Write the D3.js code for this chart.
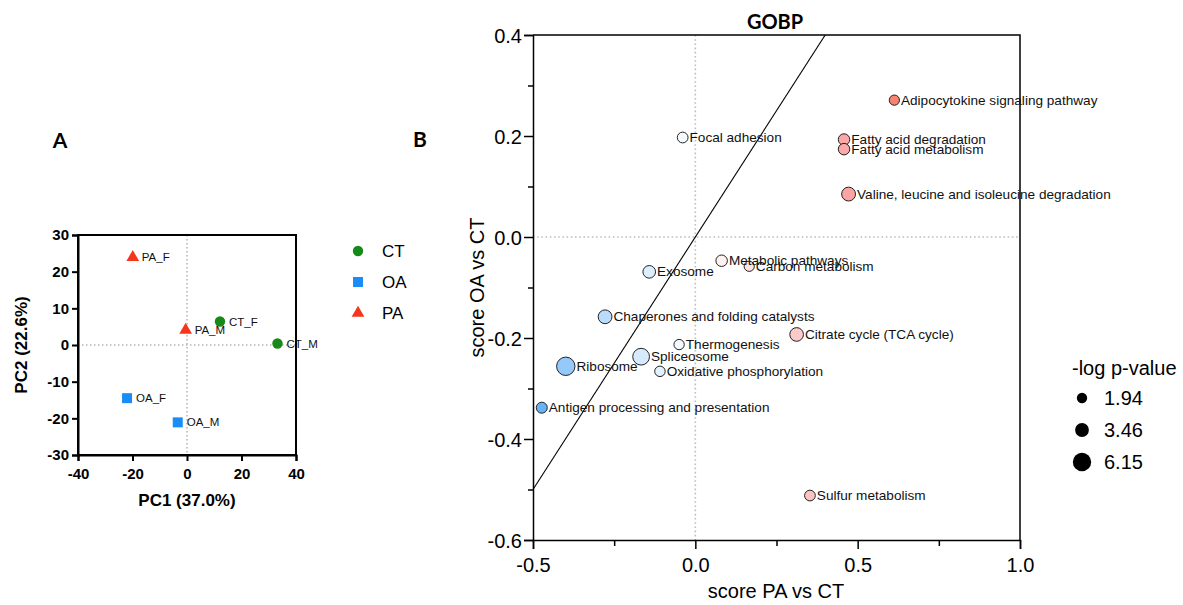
<!DOCTYPE html>
<html>
<head>
<meta charset="utf-8">
<script src="https://cdn.jsdelivr.net/npm/d3@7"></script>
<style>
  html, body { margin: 0; padding: 0; background: #fff; }
  svg { display: block; }
</style>
</head>
<body>
<svg id="fig" width="1183" height="605"></svg>
<script>
// ---- Panel A: PCA scores ----
const pcaSamples = ["PA_F", "PA_M", "CT_F", "CT_M", "OA_F", "OA_M"];
const pcaGroups  = ["PA", "PA", "CT", "CT", "OA", "OA"];
const pcaPC1     = [-19.9, -0.5, 12.1, 33.2, -22.0, -3.4];
const pcaPC2     = [23.9, 4.1, 6.4, 0.4, -14.5, -21.1];
const groupNames = ["CT", "OA", "PA"];
const pcaXTicks  = [-40, -20, 0, 20, 40];
const pcaYTicks  = [-30, -20, -10, 0, 10, 20, 30];

// ---- Panel B: pathway scores (GOBP) ----
const pathways = [
  "Adipocytokine signaling pathway", "Fatty acid degradation", "Fatty acid metabolism",
  "Valine, leucine and isoleucine degradation", "Focal adhesion", "Exosome",
  "Metabolic pathways", "Carbon metabolism", "Chaperones and folding catalysts",
  "Citrate cycle (TCA cycle)", "Thermogenesis", "Spliceosome", "Ribosome",
  "Oxidative phosphorylation", "Antigen processing and presentation", "Sulfur metabolism"
];
const scorePA = [0.613, 0.458, 0.458, 0.472, -0.039, -0.142, 0.081, 0.166, -0.278,
                 0.312, -0.050, -0.167, -0.399, -0.109, -0.473, 0.353];
const scoreOA = [0.271, 0.193, 0.174, 0.085, 0.197, -0.069, -0.047, -0.058, -0.158,
                 -0.193, -0.213, -0.237, -0.256, -0.266, -0.338, -0.512];
const negLogP = [1.9, 2.4, 2.4, 3.5, 2.1, 2.9, 2.4, 1.9, 3.46,
                 3.4, 1.94, 5.1, 6.15, 2.0, 2.2, 2.1];
const sizeLegend = [1.94, 3.46, 6.15];
const bXTicks = [-0.5, 0.0, 0.5, 1.0];
const bXMinor = [-0.25, 0.25, 0.75];
const bYTicks = [0.4, 0.2, 0.0, -0.2, -0.4, -0.6];
const bYMinor = [0.3, 0.1, -0.1, -0.3, -0.5];
const identityLine = [-0.5, 0.4];   // y = x reference, drawn between these values

const svg = d3.select("#fig");
const ARIAL = "'Liberation Sans', Arial, Helvetica, sans-serif";
const CAL = "Lato, 'Open Sans', sans-serif";
// plain hyphen for negative numbers
const fmt = spec => { const f = d3.format(spec); return d => f(d).replace("\u2212", "-"); };

// ================= Panel A =================
const ax = d3.scaleLinear().domain([-40, 40]).range([78, 296]);
const ay = d3.scaleLinear().domain([-30, 30]).range([455, 235]);
const groupColor = d3.scaleOrdinal().domain(groupNames).range(["#168a16", "#1a8cf5", "#f5361c"]);
const groupShape = d3.scaleOrdinal().domain(groupNames)
  .range([d3.symbolCircle, d3.symbolSquare, d3.symbolTriangle]);
const groupSize = d3.scaleOrdinal().domain(groupNames).range([85, 100, 70]);

const gA = svg.append("g");
svg.append("text").attr("x", 60).attr("y", 148).attr("text-anchor", "middle")
  .attr("font-family", CAL).attr("font-weight", 700).attr("font-size", 21).text("A");

// zero reference lines
gA.append("line").attr("x1", ax(0)).attr("x2", ax(0)).attr("y1", ay(30)).attr("y2", ay(-30))
  .attr("stroke", "#b5b5b5").attr("stroke-width", 1.5).attr("stroke-dasharray", "1.5,2.5");
gA.append("line").attr("x1", ax(-40)).attr("x2", ax(40)).attr("y1", ay(0)).attr("y2", ay(0))
  .attr("stroke", "#b5b5b5").attr("stroke-width", 1.5).attr("stroke-dasharray", "1.5,2.5");

// frame
gA.append("rect").attr("x", ax(-40)).attr("y", ay(30)).attr("width", ax(40) - ax(-40))
  .attr("height", ay(-30) - ay(30)).attr("fill", "none").attr("stroke", "#000").attr("stroke-width", 2);

const axA = gA.append("g").attr("transform", `translate(0,${ay(-30)})`)
  .call(d3.axisBottom(ax).tickValues(pcaXTicks).tickSize(6).tickPadding(4).tickFormat(fmt("d")));
const ayA = gA.append("g").attr("transform", `translate(${ax(-40)},0)`)
  .call(d3.axisLeft(ay).tickValues(pcaYTicks).tickSize(6).tickPadding(3).tickFormat(fmt("d")));
[axA, ayA].forEach(g => {
  g.select(".domain").attr("stroke-width", 2);
  g.selectAll(".tick line").attr("stroke-width", 2);
  g.selectAll(".tick text").attr("font-family", ARIAL).attr("font-weight", 700)
    .attr("font-size", 15).attr("fill", "#000");
});
axA.selectAll(".tick text").attr("dy", "0.9em");

gA.append("text").attr("x", ax(0)).attr("y", 506).attr("text-anchor", "middle")
  .attr("font-family", ARIAL).attr("font-weight", 700).attr("font-size", 17).text("PC1 (37.0%)");
gA.append("text").attr("transform", `translate(27,${ay(0)}) rotate(-90)`).attr("text-anchor", "middle")
  .attr("font-family", ARIAL).attr("font-weight", 700).attr("font-size", 17).text("PC2 (22.6%)");

const ptsA = pcaSamples.map((s, i) => ({ s, g: pcaGroups[i], x: pcaPC1[i], y: pcaPC2[i] }));
gA.selectAll("path.pt").data(ptsA).join("path").attr("class", "pt")
  .attr("transform", d => `translate(${ax(d.x)},${ay(d.y)})`)
  .attr("d", d => d3.symbol().type(groupShape(d.g)).size(groupSize(d.g))())
  .attr("fill", d => groupColor(d.g));
gA.selectAll("text.lab").data(ptsA).join("text").attr("class", "lab")
  .attr("x", d => ax(d.x) + 9).attr("y", d => ay(d.y)).attr("dy", "0.35em")
  .attr("font-family", ARIAL).attr("font-size", 11.5).attr("fill", "#111").text(d => d.s);

// legend
const legA = gA.selectAll("g.leg").data(groupNames).join("g").attr("class", "leg")
  .attr("transform", (d, i) => `translate(358,${251 + i * 31})`);
legA.append("path").attr("d", d => d3.symbol().type(groupShape(d)).size(groupSize(d))())
  .attr("fill", d => groupColor(d));
legA.append("text").attr("x", 24).attr("dy", "0.36em").attr("font-family", ARIAL)
  .attr("font-size", 17).text(d => d);

// ================= Panel B =================
const bx = d3.scaleLinear().domain([-0.5, 1.0]).range([533, 1020]);
const by = d3.scaleLinear().domain([-0.6, 0.4]).range([540, 35]);
const rScale = d3.scaleSqrt().domain([0, 6.15]).range([0, 9.2]);
const fillScale = d3.scaleLinear()
  .domain([-0.48, -0.38, 0, 0.35, 0.47, 0.62])
  .range(["#62b2f5", "#a0cffb", "#ffffff", "#fcc4c4", "#faa5a5", "#f7826f"])
  .clamp(true);

const gB = svg.append("g");
svg.append("text").attr("x", 420).attr("y", 147).attr("text-anchor", "middle")
  .attr("font-family", CAL).attr("font-weight", 700).attr("font-size", 21).text("B");
svg.append("text").attr("x", 775).attr("y", 29).attr("text-anchor", "middle")
  .attr("font-family", CAL).attr("font-weight", 700).attr("font-size", 20).text("GOBP");

gB.append("defs").append("clipPath").attr("id", "plotB").append("rect")
  .attr("x", bx(-0.5)).attr("y", by(0.4)).attr("width", bx(1) - bx(-0.5)).attr("height", by(-0.6) - by(0.4));

gB.append("line").attr("x1", bx(0)).attr("x2", bx(0)).attr("y1", by(0.4)).attr("y2", by(-0.6))
  .attr("stroke", "#bdbdbd").attr("stroke-width", 1.6).attr("stroke-dasharray", "1.6,2.6");
gB.append("line").attr("x1", bx(-0.5)).attr("x2", bx(1)).attr("y1", by(0)).attr("y2", by(0))
  .attr("stroke", "#bdbdbd").attr("stroke-width", 1.6).attr("stroke-dasharray", "1.6,2.6");

gB.append("line").attr("clip-path", "url(#plotB)")
  .attr("x1", bx(identityLine[0])).attr("y1", by(identityLine[0]))
  .attr("x2", bx(identityLine[1])).attr("y2", by(identityLine[1]))
  .attr("stroke", "#000").attr("stroke-width", 1.1);

// frame top and right
gB.append("path").attr("d", `M${bx(-0.5)},${by(0.4)}H${bx(1)}V${by(-0.6)}`)
  .attr("fill", "none").attr("stroke", "#000").attr("stroke-width", 1.5);

const bxAxis = gB.append("g").attr("transform", `translate(0,${by(-0.6)})`)
  .call(d3.axisBottom(bx).tickValues(bXTicks).tickSize(9).tickPadding(6).tickFormat(fmt(".1f")));
const byAxis = gB.append("g").attr("transform", `translate(${bx(-0.5)},0)`)
  .call(d3.axisLeft(by).tickValues(bYTicks).tickSize(9).tickPadding(2).tickFormat(fmt(".1f")));
gB.append("g").attr("transform", `translate(0,${by(-0.6)})`)
  .call(d3.axisBottom(bx).tickValues(bXMinor).tickSize(6).tickFormat(""))
  .call(g => g.select(".domain").remove())
  .selectAll("line").attr("stroke-width", 1.5);
gB.append("g").attr("transform", `translate(${bx(-0.5)},0)`)
  .call(d3.axisLeft(by).tickValues(bYMinor).tickSize(5).tickFormat(""))
  .call(g => g.select(".domain").remove())
  .selectAll("line").attr("stroke-width", 1.5);
[bxAxis, byAxis].forEach(g => {
  g.select(".domain").attr("stroke-width", 1.5);
  g.selectAll(".tick line").attr("stroke-width", 1.5);
  g.selectAll(".tick text").attr("font-family", ARIAL).attr("font-size", 20).attr("fill", "#000");
});
bxAxis.selectAll(".tick text").attr("dy", "0.85em");
byAxis.selectAll(".tick text").attr("dy", "0.36em");

gB.append("text").attr("x", 776).attr("y", 598).attr("text-anchor", "middle")
  .attr("font-family", ARIAL).attr("font-size", 20).text("score PA vs CT");
gB.append("text").attr("transform", `translate(484,${by(-0.1)}) rotate(-90)`).attr("text-anchor", "middle")
  .attr("font-family", ARIAL).attr("font-size", 20).text("score OA vs CT");

const ptsB = pathways.map((p, i) => ({ p, x: scorePA[i], y: scoreOA[i], v: negLogP[i] }));
gB.selectAll("circle.pw").data(ptsB).join("circle").attr("class", "pw")
  .attr("cx", d => bx(d.x)).attr("cy", d => by(d.y)).attr("r", d => rScale(d.v))
  .attr("fill", d => fillScale(d.x)).attr("stroke", "#222").attr("stroke-width", 1);
gB.selectAll("text.pw").data(ptsB).join("text").attr("class", "pw")
  .attr("x", d => bx(d.x) + rScale(d.v) + 1.5).attr("y", d => by(d.y)).attr("dy", "0.34em")
  .attr("font-family", ARIAL).attr("font-size", 13.6).attr("fill", "#111").text(d => d.p);

// size legend
svg.append("text").attr("x", 1072).attr("y", 375).attr("font-family", ARIAL).attr("font-size", 20)
  .text("-log p-value");
const legB = svg.selectAll("g.sz").data(sizeLegend).join("g").attr("class", "sz")
  .attr("transform", (d, i) => `translate(1082,${398 + i * 32})`);
legB.append("circle").attr("r", d => rScale(d)).attr("fill", "#000");
legB.append("text").attr("x", 22).attr("dy", "0.36em").attr("font-family", ARIAL)
  .attr("font-size", 20).text(d => d3.format(".2f")(d));
</script>
</body>
</html>
